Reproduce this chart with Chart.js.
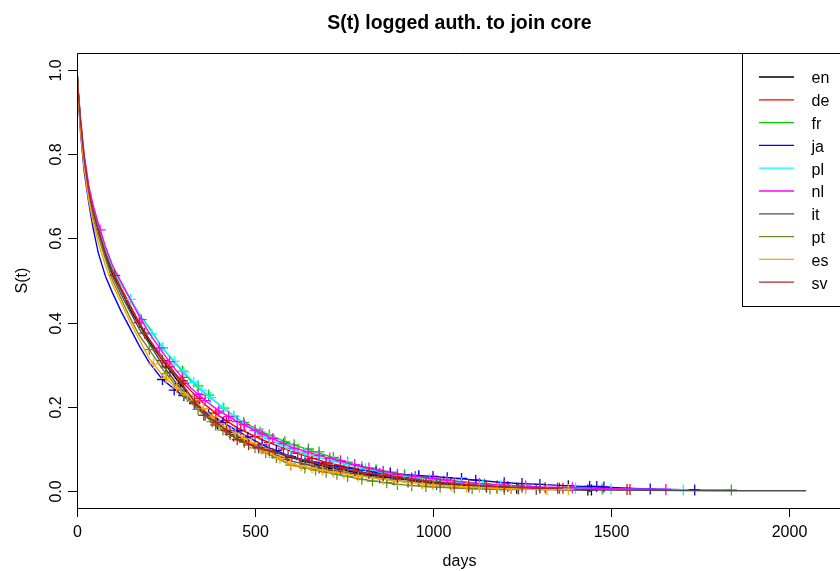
<!DOCTYPE html>
<html>
<head>
<meta charset="utf-8">
<title>S(t) logged auth. to join core</title>
<script src="https://cdn.jsdelivr.net/npm/chart.js@4.4.1/dist/chart.umd.min.js"></script>
<style>
  html, body { margin: 0; padding: 0; background: #fff; }
  #wrap { width: 840px; height: 571px; }
</style>
</head>
<body>
<div id="wrap"><canvas id="surv" width="840" height="571"></canvas></div>
<script>
// Kaplan-Meier estimates per language edition
const seriesNames = ["en", "de", "fr", "ja", "pl", "nl", "it", "pt", "es", "sv"];
const seriesColors = ["#000000", "#ff0000", "#00cd00", "#0000ff", "#00ffff",
                      "#ff00ff", "#4d4d4d", "#6b8e23", "#ffa500", "#a52a2a"];

const xTicks = [0, 500, 1000, 1500, 2000];
const yTicks = [0, 0.2, 0.4, 0.6, 0.8, 1.0];
const yTickLabels = ["0.0", "0.2", "0.4", "0.6", "0.8", "1.0"];

// days at which each curve is read
const gridDays = [0, 4, 10, 20, 33, 45, 60, 80, 100, 125, 150, 175, 203, 240, 280,
                  320, 360, 400, 450, 520, 600, 700, 800, 900, 1000, 1100, 1200, 1300];

const survEn = [1, 0.94, 0.87, 0.785, 0.71, 0.665, 0.62, 0.56, 0.515, 0.475, 0.43, 0.395, 0.355, 0.31, 0.265,
                0.222, 0.188, 0.156, 0.13, 0.102, 0.08, 0.057, 0.042, 0.03, 0.02, 0.013, 0.008, 0.005];
const survDe = [1, 0.94, 0.875, 0.79, 0.715, 0.67, 0.625, 0.57, 0.525, 0.48, 0.44, 0.40, 0.36, 0.318, 0.275,
                0.238, 0.205, 0.178, 0.15, 0.122, 0.095, 0.068, 0.05, 0.035, 0.025, 0.017, 0.011, 0.008];
const survFr = [1, 0.945, 0.88, 0.795, 0.72, 0.675, 0.63, 0.575, 0.53, 0.49, 0.455, 0.42, 0.388, 0.34, 0.3,
                0.262, 0.232, 0.205, 0.172, 0.14, 0.112, 0.085, 0.058, 0.042, 0.03, 0.02, 0.013, 0.009];
const survJa = [1, 0.93, 0.85, 0.76, 0.685, 0.625, 0.565, 0.51, 0.47, 0.425, 0.385, 0.345, 0.305, 0.265, 0.238,
                0.212, 0.19, 0.168, 0.143, 0.11, 0.082, 0.062, 0.05, 0.04, 0.035, 0.028, 0.02, 0.016];
const survPl = [1, 0.945, 0.88, 0.795, 0.72, 0.672, 0.628, 0.575, 0.53, 0.49, 0.455, 0.42, 0.385, 0.34, 0.302,
                0.265, 0.232, 0.205, 0.172, 0.132, 0.1, 0.075, 0.055, 0.038, 0.027, 0.019, 0.013, 0.009];
const survNl = [1, 0.945, 0.885, 0.8, 0.725, 0.68, 0.635, 0.58, 0.535, 0.495, 0.455, 0.415, 0.375, 0.33, 0.285,
                0.245, 0.215, 0.19, 0.165, 0.136, 0.105, 0.08, 0.058, 0.04, 0.03, 0.02, 0.014, 0.01];
const survIt = [1, 0.94, 0.87, 0.785, 0.705, 0.66, 0.615, 0.555, 0.51, 0.465, 0.425, 0.385, 0.35, 0.3, 0.255,
                0.215, 0.18, 0.15, 0.125, 0.1, 0.072, 0.052, 0.038, 0.025, 0.017, 0.01, 0.006, 0.004];
const survPt = [1, 0.935, 0.865, 0.775, 0.7, 0.65, 0.605, 0.55, 0.5, 0.455, 0.41, 0.37, 0.336, 0.29, 0.248,
                0.21, 0.178, 0.15, 0.125, 0.095, 0.062, 0.045, 0.028, 0.016, 0.01, 0.006, 0.004];
const survEs = [1, 0.93, 0.855, 0.77, 0.69, 0.64, 0.59, 0.535, 0.49, 0.445, 0.4, 0.36, 0.315, 0.275, 0.245,
                0.222, 0.192, 0.16, 0.135, 0.1, 0.065, 0.048, 0.035, 0.024, 0.015, 0.01, 0.006, 0.004];
const survSv = [1, 0.94, 0.875, 0.79, 0.712, 0.668, 0.622, 0.565, 0.52, 0.475, 0.435, 0.398, 0.36, 0.31, 0.272,
                0.225, 0.18, 0.158, 0.122, 0.1, 0.082, 0.06, 0.045, 0.032, 0.022, 0.015, 0.01, 0.007];

// follow-up past the shared grid: [day, S(t)]
const tailEn = [[1400, 0.003], [1445, 0.003]];
const tailDe = [[1400, 0.006], [1500, 0.004], [1553, 0.004]];
const tailFr = [[1400, 0.007], [1500, 0.005], [1650, 0.003], [1838, 0.003]];
const tailJa = [[1400, 0.012], [1500, 0.009], [1600, 0.005], [1735, 0.003]];
const tailPl = [[1400, 0.007], [1500, 0.005], [1600, 0.004], [1715, 0.003]];
const tailNl = [[1400, 0.008], [1500, 0.006], [1654, 0.004]];
const tailIt = [[1400, 0.003], [1600, 0.002], [1800, 0.001], [2048, 0.001]];
const tailPt = [[1250, 0.004]];
const tailEs = [[1380, 0.004]];
const tailSv = [[1350, 0.007]];

// censored observations: [day, S(t)]
const censEn = [[250, 0.295], [290, 0.255], [330, 0.215], [395, 0.16], [430, 0.14], [470, 0.12], [520, 0.102],
                [560, 0.09], [600, 0.08], [640, 0.07], [680, 0.062], [720, 0.054], [790, 0.043], [830, 0.038],
                [870, 0.033], [960, 0.024], [1000, 0.02], [1050, 0.017], [1100, 0.013], [1150, 0.01],
                [1180, 0.009], [1220, 0.007], [1235, 0.007], [1435, 0.003], [1445, 0.003]];
const censDe = [[175, 0.40], [260, 0.295], [300, 0.256], [345, 0.22], [390, 0.185], [420, 0.168], [460, 0.145],
                [500, 0.13], [540, 0.115], [580, 0.1], [620, 0.09], [660, 0.078], [700, 0.068], [750, 0.058],
                [800, 0.05], [850, 0.042], [900, 0.035], [940, 0.031], [1030, 0.023], [1080, 0.018],
                [1120, 0.016], [1180, 0.012], [1210, 0.011], [1300, 0.008], [1315, 0.008], [1355, 0.007],
                [1365, 0.007], [1545, 0.004], [1553, 0.004]];
const censFr = [[240, 0.34], [296, 0.285], [340, 0.25], [370, 0.228], [412, 0.197], [440, 0.178], [468, 0.163],
                [514, 0.14], [540, 0.133], [584, 0.117], [610, 0.11], [650, 0.1], [680, 0.093], [720, 0.08],
                [760, 0.069], [800, 0.058], [840, 0.051], [880, 0.045], [920, 0.039], [960, 0.033],
                [1000, 0.03], [1040, 0.026], [1080, 0.022], [1145, 0.017], [1200, 0.013], [1260, 0.011],
                [1475, 0.005], [1838, 0.003]];
const censJa = [[240, 0.265], [273, 0.24], [300, 0.227], [330, 0.208], [370, 0.185], [410, 0.163], [450, 0.143],
                [480, 0.128], [520, 0.11], [560, 0.096], [600, 0.082], [640, 0.074], [680, 0.066], [720, 0.06],
                [760, 0.055], [800, 0.05], [840, 0.046], [880, 0.042], [960, 0.037], [1000, 0.035],
                [1040, 0.032], [1080, 0.03], [1120, 0.026], [1200, 0.02], [1250, 0.018], [1300, 0.016],
                [1380, 0.013], [1440, 0.011], [1460, 0.011], [1480, 0.01], [1610, 0.005], [1735, 0.003]];
const censPl = [[150, 0.455], [210, 0.373], [240, 0.34], [273, 0.308], [300, 0.283], [328, 0.258], [350, 0.24],
                [375, 0.222], [410, 0.198], [440, 0.178], [470, 0.158], [500, 0.143], [540, 0.125],
                [570, 0.112], [600, 0.1], [640, 0.09], [680, 0.082], [720, 0.071], [760, 0.065], [810, 0.053],
                [860, 0.045], [900, 0.038], [950, 0.032], [990, 0.028], [1040, 0.023], [1080, 0.02],
                [1140, 0.016], [1190, 0.013], [1300, 0.009], [1400, 0.007], [1500, 0.005], [1703, 0.003]];
const censNl = [[65, 0.62], [180, 0.407], [231, 0.34], [260, 0.307], [296, 0.27], [340, 0.23], [360, 0.215],
                [398, 0.19], [426, 0.177], [450, 0.165], [470, 0.158], [500, 0.145], [520, 0.136], [550, 0.125],
                [580, 0.113], [610, 0.102], [649, 0.093], [680, 0.085], [710, 0.078], [740, 0.072],
                [780, 0.063], [820, 0.055], [860, 0.047], [900, 0.04], [950, 0.035], [1000, 0.03],
                [1040, 0.026], [1130, 0.018], [1200, 0.014], [1260, 0.012], [1391, 0.008], [1654, 0.004]];
const censIt = [[260, 0.28], [310, 0.225], [360, 0.18], [390, 0.157], [430, 0.135], [470, 0.117], [510, 0.103],
                [550, 0.09], [590, 0.075], [640, 0.064], [680, 0.055], [720, 0.049], [760, 0.043], [800, 0.038],
                [850, 0.031], [890, 0.027], [930, 0.022], [970, 0.019], [1010, 0.016], [1060, 0.013],
                [1100, 0.01], [1180, 0.007], [1240, 0.005], [1290, 0.004]];
const censPt = [[203, 0.336], [250, 0.279], [300, 0.23], [340, 0.194], [380, 0.165], [410, 0.145], [440, 0.13],
                [470, 0.116], [500, 0.103], [530, 0.091], [560, 0.08], [600, 0.062], [640, 0.055], [670, 0.05],
                [700, 0.045], [730, 0.04], [760, 0.035], [800, 0.028], [830, 0.024], [870, 0.02], [900, 0.016],
                [940, 0.013], [980, 0.011], [1020, 0.009], [1060, 0.008], [1110, 0.006], [1160, 0.005],
                [1200, 0.004]];
const censEs = [[215, 0.302], [250, 0.268], [280, 0.245], [310, 0.228], [330, 0.214], [355, 0.196], [380, 0.176],
                [400, 0.16], [420, 0.15], [445, 0.137], [470, 0.124], [490, 0.115], [520, 0.1], [540, 0.091],
                [570, 0.078], [600, 0.065], [630, 0.06], [660, 0.055], [690, 0.05], [720, 0.045], [750, 0.042],
                [790, 0.036], [860, 0.028], [900, 0.024], [940, 0.02], [970, 0.018], [1000, 0.015],
                [1052, 0.012], [1094, 0.01], [1130, 0.009], [1180, 0.007], [1220, 0.006], [1260, 0.005],
                [1320, 0.004], [1380, 0.004]];
const censSv = [[106, 0.512], [190, 0.375], [240, 0.31], [296, 0.262], [330, 0.212], [356, 0.18], [390, 0.163],
                [420, 0.144], [450, 0.122], [482, 0.11], [510, 0.103], [540, 0.097], [593, 0.084], [630, 0.075],
                [660, 0.07], [700, 0.064], [740, 0.055], [780, 0.049], [820, 0.042], [860, 0.037],
                [900, 0.032], [940, 0.028], [980, 0.024], [1020, 0.02], [1060, 0.018], [1100, 0.015],
                [1150, 0.012], [1200, 0.01], [1250, 0.009], [1300, 0.008], [1350, 0.007]];

const survAll = [survEn, survDe, survFr, survJa, survPl, survNl, survIt, survPt, survEs, survSv];
const tailAll = [tailEn, tailDe, tailFr, tailJa, tailPl, tailNl, tailIt, tailPt, tailEs, tailSv];
const censAll = [censEn, censDe, censFr, censJa, censPl, censNl, censIt, censPt, censEs, censSv];

const FONT = "'Liberation Sans', Arial, Helvetica, sans-serif";

const datasets = [];
seriesNames.forEach((name, i) => {
  const curve = survAll[i].map((s, k) => ({ x: gridDays[k], y: s }))
    .concat(tailAll[i].map(p => ({ x: p[0], y: p[1] })));
  // later series sit on top, as in base R
  datasets.push({
    label: name,
    data: curve,
    borderColor: seriesColors[i],
    borderWidth: 1.4,
    pointRadius: 0,
    tension: 0,
    fill: false,
    order: 2 * (seriesNames.length - i)
  });
  datasets.push({
    label: name + " censored",
    data: censAll[i].map(p => ({ x: p[0], y: p[1] })),
    showLine: false,
    pointStyle: "cross",
    pointRadius: 5.5,
    pointBorderWidth: 1.3,
    pointBorderColor: seriesColors[i],
    pointBackgroundColor: seriesColors[i],
    order: 2 * (seriesNames.length - i) - 1
  });
});

// box, axes, titles and legend in base-graphics style
const rFrame = {
  id: "rFrame",
  afterDraw(chart) {
    const { ctx, chartArea: a, scales: { x, y } } = chart;
    const right = 842;
    ctx.save();
    ctx.strokeStyle = "#000";
    ctx.fillStyle = "#000";
    ctx.lineWidth = 1;

    ctx.beginPath();
    ctx.moveTo(right, a.top + 0.5);
    ctx.lineTo(a.left + 0.5, a.top + 0.5);
    ctx.lineTo(a.left + 0.5, a.bottom + 0.5);
    ctx.lineTo(right, a.bottom + 0.5);
    ctx.stroke();

    // x axis
    ctx.font = "16px " + FONT;
    ctx.textAlign = "center";
    ctx.textBaseline = "alphabetic";
    xTicks.forEach(v => {
      const px = Math.round(x.getPixelForValue(v)) + 0.5;
      ctx.beginPath();
      ctx.moveTo(px, a.bottom);
      ctx.lineTo(px, a.bottom + 9);
      ctx.stroke();
      ctx.fillText(String(v), px, 537);
    });

    // y axis, labels turned parallel to the axis
    yTicks.forEach((v, k) => {
      const py = Math.round(y.getPixelForValue(v)) + 0.5;
      ctx.beginPath();
      ctx.moveTo(a.left - 9, py);
      ctx.lineTo(a.left, py);
      ctx.stroke();
      ctx.save();
      ctx.translate(60.5, py);
      ctx.rotate(-Math.PI / 2);
      ctx.fillText(yTickLabels[k], 0, 0);
      ctx.restore();
    });

    const midX = (a.left + right) / 2;
    const midY = (a.top + a.bottom) / 2;
    ctx.fillText("days", midX, 566);
    ctx.save();
    ctx.translate(27, midY);
    ctx.rotate(-Math.PI / 2);
    ctx.fillText("S(t)", 0, 0);
    ctx.restore();

    ctx.font = "bold 19.5px " + FONT;
    ctx.fillText("S(t) logged auth. to join core", midX, 29);

    // legend, top right corner
    const lx = 742.5, ly = a.top + 0.5, lh = 253;
    ctx.fillStyle = "#fff";
    ctx.fillRect(lx, ly, right - lx, lh);
    ctx.strokeStyle = "#000";
    ctx.strokeRect(lx, ly, right - lx, lh);
    ctx.font = "16px " + FONT;
    ctx.textAlign = "left";
    ctx.lineWidth = 1.3;
    seriesNames.forEach((name, i) => {
      const yy = 77 + 22.8 * i;
      ctx.strokeStyle = seriesColors[i];
      ctx.beginPath();
      ctx.moveTo(759, yy);
      ctx.lineTo(794, yy);
      ctx.stroke();
      ctx.fillStyle = "#000";
      ctx.fillText(name, 811.5, yy + 6.3);
    });
    ctx.restore();
  }
};

new Chart(document.getElementById("surv"), {
  type: "line",
  data: { datasets },
  options: {
    responsive: false,
    animation: false,
    devicePixelRatio: 1,
    layout: { padding: { left: 77, top: 53, right: 0, bottom: 63 } },
    scales: {
      x: { type: "linear", min: 0, max: 2124, display: false },
      y: { type: "linear", min: -0.04, max: 1.04, display: false }
    },
    plugins: {
      legend: { display: false },
      title: { display: false },
      tooltip: { enabled: false }
    },
    events: []
  },
  plugins: [rFrame]
});
</script>
</body>
</html>
